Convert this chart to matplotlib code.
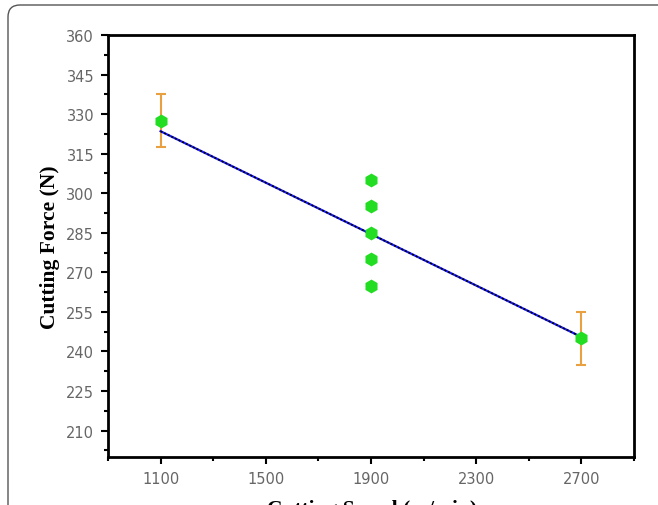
import numpy as np
import matplotlib
matplotlib.use("Agg")
import matplotlib.pyplot as plt
from matplotlib.ticker import AutoMinorLocator
from matplotlib.patches import FancyBboxPatch
from matplotlib.transforms import IdentityTransform

# Data
speed_single = [1100, 2700]
force_single = [327.5, 245.0]
force_err = [10.0, 10.0]

speed_center = [1900, 1900, 1900, 1900, 1900]
force_center = [305, 295, 285, 275, 265]

fit_x = [1100, 2700]
fit_y = [323.5, 245.5]

xticks = [1100, 1500, 1900, 2300, 2700]
yticks = [210, 225, 240, 255, 270, 285, 300, 315, 330, 345, 360]

fig = plt.figure(figsize=(6.58, 5.06), dpi=100)
ax = fig.add_axes([0.1641, 0.0949, 0.7994, 0.834])

# card border around the figure
card = FancyBboxPatch((8, -60), 720, 560, boxstyle="round,pad=0,rounding_size=12",
                      transform=IdentityTransform(), facecolor="none",
                      edgecolor="#555555", linewidth=1.0)
fig.add_artist(card)

# fitted line (blue with black dots on top)
ax.plot(fit_x, fit_y, color="#1a1aff", lw=1.6, zorder=2)
ax.plot(fit_x, fit_y, color="black", lw=1.2, ls=(0, (1.2, 1.2)), zorder=3)

# error bars at end points
ax.errorbar(speed_single, force_single, yerr=force_err, fmt="none",
            ecolor="#e8a040", elinewidth=1.5, capsize=3.5, capthick=1.5, zorder=1)

ax.plot(speed_single, force_single, "h", color="#22dd22", markersize=10,
        markeredgewidth=0, zorder=4)
ax.plot(speed_center, force_center, "h", color="#22dd22", markersize=10,
        markeredgewidth=0, zorder=4)

ax.set_xlim(900, 2900)
ax.set_ylim(200, 360)
ax.set_xticks(xticks)
ax.set_yticks(yticks)
ax.xaxis.set_minor_locator(AutoMinorLocator(2))
ax.yaxis.set_minor_locator(AutoMinorLocator(2))
ax.tick_params(which="major", direction="out", length=5, width=1.5,
               labelsize=10.5, labelcolor="#666666", pad=5)
ax.tick_params(which="minor", direction="out", length=3, width=1.5)
for sp in ax.spines.values():
    sp.set_linewidth(2)

ax.set_ylabel("Cutting Force (N)", fontsize=15.5, fontweight="bold",
              family="Liberation Serif", labelpad=4)
fig.text(0.565, -0.008, "Cutting Speed (m/min)", fontsize=15.5, fontweight="bold",
         family="Liberation Serif", ha="center", va="center")

plt.savefig("out.png", dpi=100)
plt.close(fig)
